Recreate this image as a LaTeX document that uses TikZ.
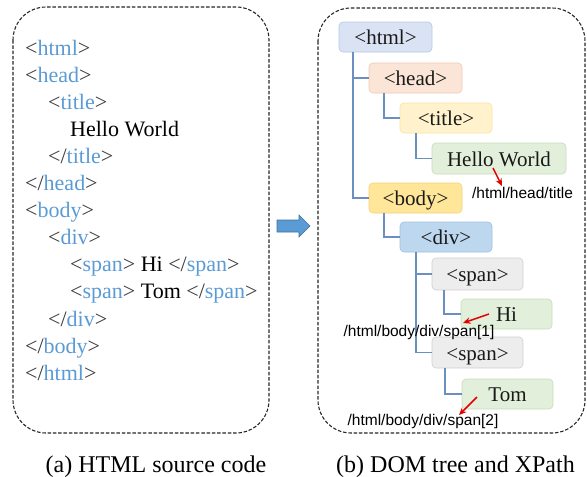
\documentclass[tikz,border=0pt]{standalone}
\usepackage{fontspec}
\setmainfont{Liberation Serif}
\newfontfamily\lsans{Liberation Sans}
\usetikzlibrary{arrows.meta}
\definecolor{tagblue}{HTML}{5B9BD5}
\definecolor{brk}{HTML}{3A3A3A}
\definecolor{edgeblue}{HTML}{6A8FC0}
\definecolor{arrfill}{HTML}{5B9BD5}
\definecolor{arrdraw}{HTML}{41719C}
\definecolor{htmlfill}{HTML}{DAE3F3}\definecolor{htmldraw}{HTML}{B4C7E7}
\definecolor{headfill}{HTML}{FBE5D6}\definecolor{headdraw}{HTML}{F0C8B4}
\definecolor{titlefill}{HTML}{FFF2CC}\definecolor{titledraw}{HTML}{FAE1A0}
\definecolor{leaffill}{HTML}{E2EFDA}\definecolor{leafdraw}{HTML}{C5DCB9}
\definecolor{bodyfill}{HTML}{FFE699}\definecolor{bodydraw}{HTML}{F5D278}
\definecolor{divfill}{HTML}{BDD7EE}\definecolor{divdraw}{HTML}{A0C0E1}
\definecolor{spanfill}{HTML}{EDEDED}\definecolor{spandraw}{HTML}{D0D0D0}
\newcommand{\tg}[1]{{\color{brk}<}{\color{tagblue}#1}{\color{brk}>}}
\newcommand{\ctg}[1]{{\color{brk}</}{\color{tagblue}#1}{\color{brk}>}}
\tikzset{
  dbox/.style={draw=black!85, line width=1.1pt, dash pattern=on 3.5pt off 1.8pt, rounded corners=33pt},
  src/.style={anchor=base west, inner sep=0pt, font=\fontsize{22}{26}\selectfont},
  tnode/.style={rounded corners=4pt, line width=0.6pt, inner sep=0pt, text height=15pt, text depth=0pt,
    font=\fontsize{21}{25}\selectfont, text=black!90},
  tree/.style={draw=edgeblue, line width=1.6pt},
  xp/.style={inner sep=0pt, font=\lsans\fontsize{15.5}{18}\selectfont},
  redarr/.style={draw=red!90!black, line width=1.5pt, -{Stealth[length=7.5pt,width=6.5pt]}},
  capt/.style={anchor=base, inner sep=0pt, font=\fontsize{24}{28}\selectfont},
}
\begin{document}
\begin{tikzpicture}[x=1pt,y=-1pt]
\useasboundingbox (0,0) rectangle (587,477);
% frames
\draw[dbox] (13,7) rectangle (269,433);
\draw[dbox] (318,8) rectangle (585,433);
% source code
\node[src] (l1) at (25,55.5) {\tg{html}};
\node[src] (l2) at (25,82.55) {\tg{head}};
\node[src] (l3) at (48,109.6) {\tg{title}};
\node[src] (l4) at (70,136.65) {Hello World};
\node[src] (l5) at (48,163.7) {\ctg{title}};
\node[src] (l6) at (25,190.75) {\ctg{head}};
\node[src] (l7) at (25,217.8) {\tg{body}};
\node[src] (l8) at (48,244.85) {\tg{div}};
\node[src] (l9) at (70,271.9) {\tg{span} Hi \ctg{span}};
\node[src] (l10) at (70,298.95) {\tg{span} Tom \ctg{span}};
\node[src] (l11) at (48,326) {\ctg{div}};
\node[src] (l12) at (25,353.05) {\ctg{body}};
\node[src] (l13) at (25,380.1) {\ctg{html}};
% middle arrow
\draw[fill=arrfill, draw=arrdraw, line width=0.6pt] (277,220) -- (299,220) -- (299,215) -- (310,226) -- (299,237) -- (299,232) -- (277,232) -- cycle;
% tree nodes
\node[tnode, fill=htmlfill, draw=htmldraw, minimum width=93pt, minimum height=30pt] (html) at (385.5,37) {<html>};
\node[tnode, fill=headfill, draw=headdraw, minimum width=93pt, minimum height=30pt] (head) at (415.5,78) {<head>};
\node[tnode, fill=titlefill, draw=titledraw, minimum width=92pt, minimum height=30pt] (title) at (446,118) {<title>};
\node[tnode, fill=leaffill, draw=leafdraw, minimum width=134pt, minimum height=31pt] (hello) at (499,158.5) {Hello World};
\node[tnode, fill=bodyfill, draw=bodydraw, minimum width=93pt, minimum height=30pt] (body) at (415.5,198) {<body>};
\node[tnode, fill=divfill, draw=divdraw, minimum width=92pt, minimum height=30pt] (div) at (446,237) {<div>};
\node[tnode, fill=spanfill, draw=spandraw, minimum width=91pt, minimum height=32pt] (span1) at (477.5,274) {<span>};
\node[tnode, fill=leaffill, draw=leafdraw, minimum width=91pt, minimum height=30pt] (hi) at (506.5,314) {Hi};
\node[tnode, fill=spanfill, draw=spandraw, minimum width=91pt, minimum height=31pt] (span2) at (477.5,352.5) {<span>};
\node[tnode, fill=leaffill, draw=leafdraw, minimum width=91pt, minimum height=30pt] (tom) at (507.5,394) {Tom};
% tree edges
\draw[tree] ([xshift=14pt]html.south west) |- (head.west);
\draw[tree] ([xshift=14pt]html.south west) |- (body.west);
\draw[tree] ([xshift=15pt]head.south west) |- (title.west);
\draw[tree] ([xshift=16pt]title.south west) |- (hello.west);
\draw[tree] ([xshift=15pt]body.south west) |- (div.west);
\draw[tree] ([xshift=16pt]div.south west) |- (span1.west);
\draw[tree] ([xshift=16pt]div.south west) |- (span2.west);
\draw[tree] ([xshift=12pt]span1.south west) |- (hi.west);
\draw[tree] ([xshift=13pt]span2.south west) |- (tom.west);
% xpath labels
\node[xp] (x1) at (522.5,193) {/html/head/title};
\node[xp] (x2) at (419,332) {/html/body/div/span[1]};
\node[xp] (x3) at (423,421) {/html/body/div/span[2]};
\coordinate (s1) at (493,168);
\coordinate (e1) at (502,186);
\coordinate (s2) at (489,314);
\coordinate (e2) at (463,323);
\coordinate (s3) at (477,397);
\coordinate (e3) at (459,415);
\draw[redarr] (s1) -- (e1);
\draw[redarr] (s2) -- (e2);
\draw[redarr] (s3) -- (e3);
% captions
\node[capt] (ca) at (156,472) {(a) HTML source code};
\node[capt] (cb) at (455.5,472) {(b) DOM tree and XPath};
\end{tikzpicture}
\end{document}
